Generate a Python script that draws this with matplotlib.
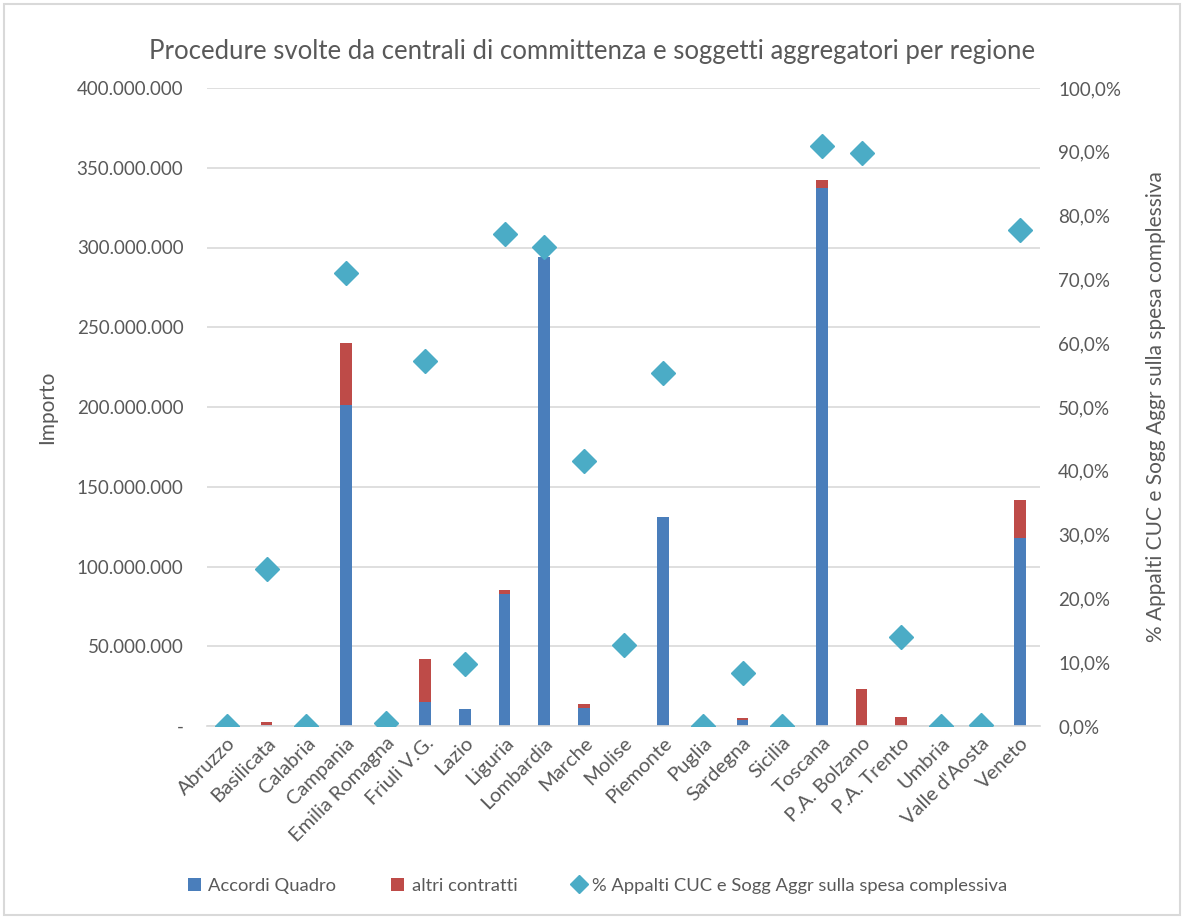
import matplotlib.pyplot as plt
from matplotlib.patches import Rectangle
from matplotlib.ticker import FuncFormatter, MultipleLocator
import numpy as np

plt.rcParams['font.family'] = ['Lato', 'DejaVu Sans']

regioni = ["Abruzzo", "Basilicata", "Calabria", "Campania", "Emilia Romagna",
           "Friuli V.G.", "Lazio", "Liguria", "Lombardia", "Marche", "Molise",
           "Piemonte", "Puglia", "Sardegna", "Sicilia", "Toscana",
           "P.A. Bolzano", "P.A. Trento", "Umbria", "Valle d'Aosta", "Veneto"]

# importi in euro
accordi_quadro = [0, 0.4e6, 0, 201e6, 0, 15e6, 10.5e6, 83e6, 294e6, 11.5e6, 0,
                  131e6, 0, 3.5e6, 0, 337.5e6, 0, 0, 0, 0, 118e6]
altri_contratti = [0, 2e6, 0, 39e6, 0, 27e6, 0, 2e6, 0, 2.5e6, 0,
                   0, 0, 1.5e6, 0, 5e6, 23e6, 5.5e6, 0, 0, 24e6]
# quota % appalti CUC e soggetti aggregatori
pct_cuc = [0.0, 24.6, 0.0, 71.0, 0.5, 57.2, 9.7, 77.1, 75.1, 41.5, 12.7,
           55.4, 0.0, 8.3, 0.0, 90.9, 89.8, 14.0, 0.0, 0.2, 77.7]

c_blue = "#4a7ebb"
c_red = "#be4b48"
c_diam = "#4bacc6"
c_text = "#595959"
c_grid = "#d9d9d9"

fig = plt.figure(figsize=(11.84, 9.19), dpi=100)
ax = fig.add_axes([207 / 1184, 193 / 919, 833 / 1184, 638 / 919])

x = np.arange(len(regioni))
ax.bar(x, accordi_quadro, width=0.3, color=c_blue, zorder=2, label="Accordi Quadro")
ax.bar(x, altri_contratti, width=0.3, bottom=accordi_quadro, color=c_red, zorder=2,
       label="altri contratti")
ax.set_ylim(0, 400e6)
ax.set_xlim(-0.5, len(regioni) - 0.5)
ax.yaxis.set_major_locator(MultipleLocator(50e6))


def fmt_imp(v, pos):
    if v == 0:
        return "-"
    return f"{int(v):,}".replace(",", ".")


ax.yaxis.set_major_formatter(FuncFormatter(fmt_imp))
ax.grid(axis="y", color=c_grid, lw=1.2, zorder=0)
for s in ["top", "right", "left"]:
    ax.spines[s].set_visible(False)
ax.spines["bottom"].set_color(c_grid)
ax.spines["bottom"].set_linewidth(1.2)
ax.tick_params(axis="both", length=0, colors=c_text, labelsize=13.5)
ax.tick_params(axis="y", pad=17)
ax.set_xticks(x)
ax.set_xticklabels(regioni, rotation=45, ha="right", rotation_mode="anchor")
ax.tick_params(axis="x", pad=6, labelsize=14.5)
ax.set_ylabel("Importo", color=c_text, fontsize=15, labelpad=14)

ax2 = ax.twinx()
ax2.plot(x, pct_cuc, ls="none", marker="D", ms=12, color=c_diam, zorder=3,
         label="% Appalti CUC e Sogg Aggr sulla spesa complessiva")
ax2.set_ylim(0, 100)
ax2.yaxis.set_major_locator(MultipleLocator(10))
ax2.yaxis.set_major_formatter(FuncFormatter(lambda v, p: f"{v:.1f}%".replace(".", ",")))
for s in ax2.spines.values():
    s.set_visible(False)
ax2.tick_params(axis="y", length=0, colors=c_text, labelsize=13.5, pad=13)
ax2.set_ylabel("% Appalti CUC e Sogg Aggr sulla spesa complessiva", color=c_text,
               fontsize=15, labelpad=18)

fig.suptitle("Procedure svolte da centrali di committenza e soggetti aggregatori per regione",
             y=0.958, fontsize=18.5, color=c_text)

h1, l1 = ax.get_legend_handles_labels()
h2, l2 = ax2.get_legend_handles_labels()
leg = fig.legend(h1 + h2, l1 + l2, loc="center", bbox_to_anchor=(0.505, 0.036), ncol=3,
                 frameon=False, fontsize=13.2, handlelength=0.7, handleheight=0.7,
                 columnspacing=3.0, handletextpad=0.4, markerscale=0.75)
for t in leg.get_texts():
    t.set_color(c_text)

fig.patches.append(Rectangle((4 / 1184, 4 / 919), 1176 / 1184, 911 / 919,
                             transform=fig.transFigure, fill=False, edgecolor=c_grid, lw=1.5))

fig.savefig("out.png", dpi=100)
